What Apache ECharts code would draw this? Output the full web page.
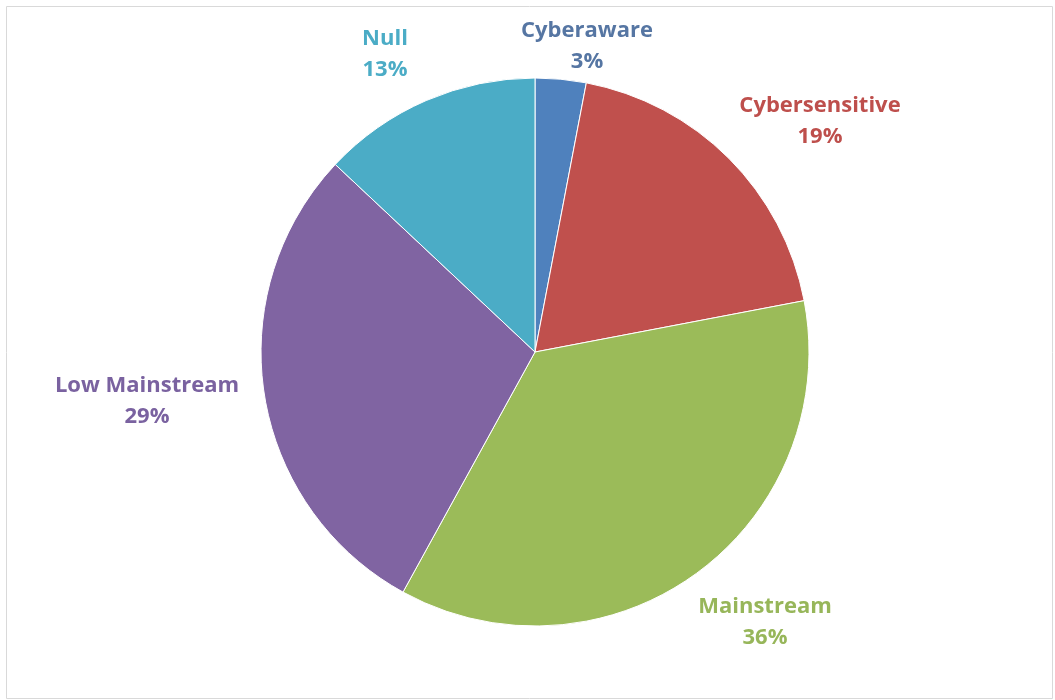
<!DOCTYPE html>
<html>
<head>
<meta charset="utf-8">
<script src="https://cdn.jsdelivr.net/npm/echarts@6/dist/echarts.min.js"></script>
<style>
  html, body { margin: 0; padding: 0; background: #fff; }
  #main { width: 1055px; height: 700px; }
</style>
</head>
<body>
<div id="main"></div>
<script>
// segments, clockwise from 12 o'clock
const segments = ['Cyberaware', 'Cybersensitive', 'Mainstream', 'Low Mainstream', 'Null'];
const shares = [3, 19, 36, 29, 13];
const sliceColors = ['#4F81BD', '#C0504D', '#9BBB59', '#8064A2', '#4BACC6'];
const textColors = ['#5676A3', '#BE4F4C', '#97B65A', '#7A62A0', '#4BACC6'];

// where each label's centre sits (px)
const labelCentres = [[587, 46], [820, 121], [765, 622], [147, 401], [385, 54]];

const chart = echarts.init(document.getElementById('main'));

chart.setOption({
  animation: false,
  graphic: [{
    type: 'rect',
    shape: { x: 6.5, y: 6.5, width: 1046, height: 692 },
    style: { fill: 'none', stroke: '#d9d9d9', lineWidth: 1 }
  }],
  series: [{
    type: 'pie',
    center: [535, 352],
    radius: 274,
    startAngle: 90,
    clockwise: true,
    label: {
      show: true,
      position: 'outside',
      formatter: '{b}\n{c}%',
      fontFamily: 'Open Sans',
      fontWeight: 'bold',
      fontSize: 22,
      lineHeight: 31,
      align: 'center'
    },
    labelLine: { show: false },
    labelLayout: function (p) {
      const c = labelCentres[p.dataIndex];
      return { x: c[0], y: c[1], align: 'center', verticalAlign: 'middle' };
    },
    itemStyle: { borderColor: '#fff', borderWidth: 1 },
    emphasis: { disabled: true },
    data: segments.map((name, i) => ({
      name: name,
      value: shares[i],
      itemStyle: { color: sliceColors[i] },
      label: { color: textColors[i] }
    }))
  }]
});
</script>
</body>
</html>
